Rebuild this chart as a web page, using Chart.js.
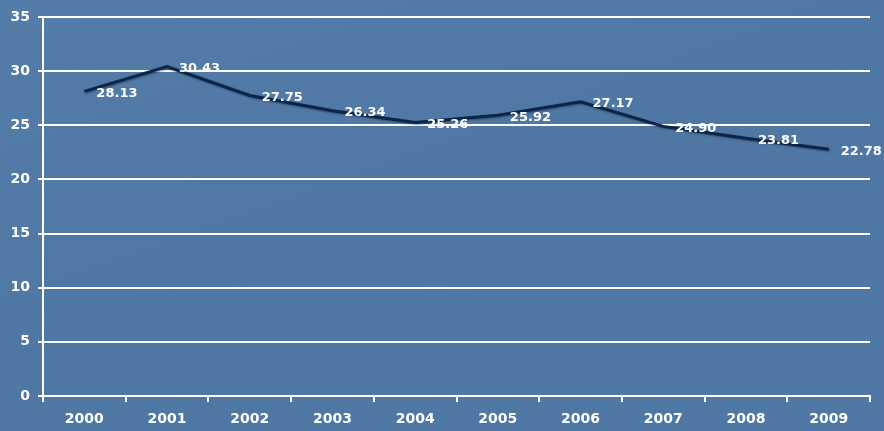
<!DOCTYPE html>
<html>
<head>
<meta charset="utf-8">
<script src="https://cdn.jsdelivr.net/npm/chart.js@4.4.1/dist/chart.umd.min.js"></script>
<style>
  html,body{margin:0;padding:0;}
  body{width:884px;height:431px;overflow:hidden;background:linear-gradient(160deg,#537ca8 0%,#4e77a3 50%,#5078a4 100%);}
  #wrap{position:relative;width:884px;height:431px;}
</style>
</head>
<body>
<div id="wrap"><canvas id="chart" width="884" height="431"></canvas></div>
<script>
// values
const years = ["2000","2001","2002","2003","2004","2005","2006","2007","2008","2009"];
const values = [28.13, 30.43, 27.75, 26.34, 25.26, 25.92, 27.17, 24.90, 23.81, 22.78];
const yTicks = [0, 5, 10, 15, 20, 25, 30, 35];

const FONT = "'DejaVu Sans', sans-serif";

// draws the value next to each point, like the original labels
const pointLabels = {
    id: "pointLabels",
    afterDatasetsDraw(chart) {
        const ctx = chart.ctx;
        const meta = chart.getDatasetMeta(0);
        ctx.save();
        ctx.font = "bold 13px " + FONT;
        ctx.fillStyle = "#ffffff";
        ctx.textAlign = "left";
        ctx.textBaseline = "middle";
        meta.data.forEach((pt, i) => {
            ctx.fillText(values[i].toFixed(2), pt.x + 12, pt.y + 2);
        });
        ctx.restore();
    }
};

// soft dark shadow under the line
const lineShadow = {
    id: "lineShadow",
    beforeDatasetDraw(chart) {
        const ctx = chart.ctx;
        ctx.save();
        ctx.shadowColor = "rgba(0,15,40,0.45)";
        ctx.shadowBlur = 2;
        ctx.shadowOffsetX = 1;
        ctx.shadowOffsetY = 1;
    },
    afterDatasetDraw(chart) {
        chart.ctx.restore();
    }
};

const ctx = document.getElementById("chart").getContext("2d");
const chart = new Chart(ctx, {
    type: "line",
    data: {
        labels: years,
        datasets: [{
            data: values,
            borderColor: "#0c2547",
            borderWidth: 3,
            pointRadius: 0,
            tension: 0,
            fill: false
        }]
    },
    options: {
        responsive: false,
        animation: false,
        events: [],
        layout: { padding: { top: 17, right: 14, left: 0, bottom: 0 } },
        plugins: {
            legend: { display: false },
            tooltip: { enabled: false }
        },
        scales: {
            x: {
                offset: true,
                border: { color: "#ffffff", width: 2 },
                grid: {
                    offset: true,
                    drawOnChartArea: false,
                    drawTicks: true,
                    tickLength: 6,
                    color: "#ffffff",
                    lineWidth: 2
                },
                ticks: {
                    color: "#ffffff",
                    font: { family: FONT, size: 14, weight: "bold" },
                    padding: 9,
                    maxRotation: 0
                },
                afterFit(scale) { scale.height = 35; }
            },
            y: {
                min: 0,
                max: 35,
                afterBuildTicks(scale) {
                    scale.ticks = yTicks.map(v => ({ value: v }));
                },
                border: { color: "#ffffff", width: 2 },
                grid: {
                    color: "#ffffff",
                    lineWidth: 2,
                    tickLength: 5
                },
                ticks: {
                    color: "#ffffff",
                    font: { family: FONT, size: 14, weight: "bold" },
                    padding: 8
                },
                afterFit(scale) { scale.width = 43; }
            }
        }
    },
    plugins: [lineShadow, pointLabels]
});
</script>
</body>
</html>
